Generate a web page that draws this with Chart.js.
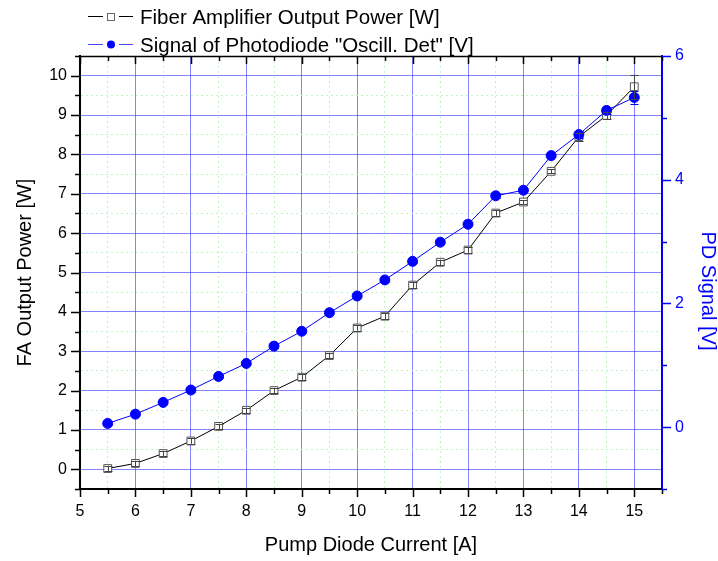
<!DOCTYPE html>
<html>
<head>
<meta charset="utf-8">
<title>Fiber Amplifier Output Power</title>
<style>
  html, body { margin: 0; padding: 0; background: #fff; }
  #wrap { width: 718px; height: 561px; }
</style>
</head>
<body>
<div id="wrap"><canvas id="myChart"></canvas></div>

<script src="https://cdn.jsdelivr.net/npm/chart.js"></script>
<script>
// values
const current = [5.5, 6, 6.5, 7, 7.5, 8, 8.5, 9, 9.5, 10, 10.5, 11, 11.5, 12, 12.5, 13, 13.5, 14, 14.5, 15];
const faPower = [0.02, 0.15, 0.40, 0.72, 1.09, 1.50, 2.00, 2.34, 2.89, 3.59, 3.89, 4.68, 5.26, 5.57, 6.51, 6.79, 7.57, 8.45, 8.99, 9.72];
const faPowerErr = [0.07, 0.07, 0.07, 0.07, 0.07, 0.07, 0.07, 0.07, 0.07, 0.07, 0.07, 0.07, 0.07, 0.07, 0.07, 0.05, 0.05, 0.1, 0.1, 0.3];
const pdSignal = [0.06, 0.21, 0.40, 0.60, 0.82, 1.03, 1.31, 1.55, 1.85, 2.12, 2.38, 2.68, 2.99, 3.28, 3.74, 3.83, 4.39, 4.73, 5.12, 5.33];
const pdSignalErr = [0.03, 0.03, 0.03, 0.03, 0.03, 0.03, 0.03, 0.03, 0.03, 0.03, 0.03, 0.03, 0.03, 0.03, 0.03, 0.03, 0.03, 0.05, 0.05, 0.1];

const legendLabels = ['Fiber Amplifier Output Power [W]', 'Signal of Photodiode "Oscill. Det" [V]'];
const xTitle = 'Pump Diode Current [A]';
const yTitle = 'FA Output Power [W]';
const y2Title = 'PD Signal [V]';

const BLUE = '#0000ff';
const GRID_BLUE = 'rgba(50, 50, 255, 0.6)';
const GRID_GREEN = '#c4f4c4';
const FONT = '"Liberation Sans", Arial, sans-serif';

Chart.defaults.font.family = FONT;

const isInt = v => Math.abs(v - Math.round(v)) < 1e-9;

const gridColor = c => (c.tick && !isInt(c.tick.value)) ? GRID_GREEN : GRID_BLUE;
const gridDash = c => (c.tick && !isInt(c.tick.value)) ? [2, 3] : [];

// error bars, tick marks, top frame line, right title and legend
const decor = {
    id: 'decor',
    afterDatasetsDraw(chart) {
        const ctx = chart.ctx;
        chart.data.datasets.forEach((ds, i) => {
            if (!ds.errors) return;
            const meta = chart.getDatasetMeta(i);
            const sc = chart.scales[ds.yAxisID];
            ctx.save();
            ctx.strokeStyle = ds.errColor;
            ctx.lineWidth = 1;
            meta.data.forEach((pt, j) => {
                const v = ds.data[j].y, e = ds.errors[j];
                const y1 = sc.getPixelForValue(v + e), y2 = sc.getPixelForValue(v - e);
                const x = Math.round(pt.x) + 0.5;
                ctx.beginPath();
                ctx.moveTo(x, y1); ctx.lineTo(x, y2);
                ctx.moveTo(x - 4, Math.round(y1) + 0.5); ctx.lineTo(x + 4, Math.round(y1) + 0.5);
                ctx.moveTo(x - 4, Math.round(y2) + 0.5); ctx.lineTo(x + 4, Math.round(y2) + 0.5);
                ctx.stroke();
            });
            ctx.restore();
        });
    },
    afterDraw(chart) {
        const ctx = chart.ctx;
        const a = chart.chartArea;
        const {x, y, y2} = chart.scales;
        ctx.save();
        ctx.lineWidth = 1.5;
        ctx.strokeStyle = '#000';
        ctx.beginPath();
        ctx.moveTo(a.left, a.top + 0.5); ctx.lineTo(a.right, a.top + 0.5);
        ctx.stroke();

        ctx.lineWidth = 1.5;
        ctx.beginPath();
        x.ticks.forEach(t => {
            const px = Math.round(x.getPixelForValue(t.value)) + 0.5;
            const len = isInt(t.value) ? 8 : 5;
            ctx.moveTo(px, a.bottom); ctx.lineTo(px, a.bottom + len);
            ctx.moveTo(px, a.top); ctx.lineTo(px, a.top + len);
        });
        y.ticks.forEach(t => {
            const py = Math.round(y.getPixelForValue(t.value)) + 0.5;
            const len = isInt(t.value) ? 9 : 5;
            ctx.moveTo(a.left - len, py); ctx.lineTo(a.left, py);
        });
        ctx.stroke();

        ctx.strokeStyle = BLUE;
        ctx.beginPath();
        y2.ticks.forEach(t => {
            const py = Math.round(y2.getPixelForValue(t.value)) + 0.5;
            const len = (t.value % 2 === 0) ? 9 : 5;
            ctx.moveTo(a.right, py); ctx.lineTo(a.right + len, py);
        });
        ctx.stroke();

        // right axis title
        ctx.save();
        ctx.translate(708, 291);
        ctx.rotate(Math.PI / 2);
        ctx.font = '20px ' + FONT;
        ctx.fillStyle = BLUE;
        ctx.textAlign = 'center';
        ctx.textBaseline = 'middle';
        ctx.fillText(y2Title, 0, 0);
        ctx.restore();

        // legend
        ctx.font = '20.5px ' + FONT;
        ctx.textAlign = 'left';
        ctx.textBaseline = 'alphabetic';
        ctx.lineWidth = 1;

        ctx.strokeStyle = '#000';
        ctx.beginPath();
        ctx.moveTo(88, 16.5); ctx.lineTo(103, 16.5);
        ctx.moveTo(119, 16.5); ctx.lineTo(133, 16.5);
        ctx.stroke();
        ctx.fillStyle = '#fff';
        ctx.strokeStyle = '#666';
        ctx.fillRect(107.5, 13.5, 7, 7);
        ctx.strokeRect(107.5, 13.5, 7, 7);
        ctx.fillStyle = '#000';
        ctx.fillText(legendLabels[0], 140, 24);

        ctx.strokeStyle = '#4848ff';
        ctx.beginPath();
        ctx.moveTo(88, 44.5); ctx.lineTo(103, 44.5);
        ctx.moveTo(119, 44.5); ctx.lineTo(133, 44.5);
        ctx.stroke();
        ctx.fillStyle = BLUE;
        ctx.beginPath();
        ctx.arc(111, 44.5, 4, 0, Math.PI * 2);
        ctx.fill();
        ctx.fillStyle = '#000';
        ctx.fillText(legendLabels[1], 140, 52);
        ctx.restore();
    }
};

const data = {
    datasets: [
        {
            label: legendLabels[1],
            data: current.map((c, i) => ({x: c, y: pdSignal[i]})),
            errors: pdSignalErr,
            errColor: BLUE,
            yAxisID: 'y2',
            order: 0,
            borderColor: BLUE,
            borderWidth: 1,
            backgroundColor: BLUE,
            pointStyle: 'circle',
            pointRadius: 5,
            pointBorderColor: BLUE,
            pointBackgroundColor: BLUE,
            tension: 0
        },
        {
            label: legendLabels[0],
            data: current.map((c, i) => ({x: c, y: faPower[i]})),
            errors: faPowerErr,
            errColor: '#444',
            yAxisID: 'y',
            order: 1,
            borderColor: '#000',
            borderWidth: 1,
            pointStyle: 'rect',
            pointRadius: 5.5,
            pointBorderColor: '#555',
            pointBackgroundColor: '#fff',
            pointBorderWidth: 1,
            tension: 0
        }
    ]
};

const config = {
    type: 'line',
    data: data,
    options: {
        responsive: true,
        maintainAspectRatio: false,
        animation: false,
        layout: { padding: { top: 56, left: 0, right: 0, bottom: 0 } },
        plugins: {
            legend: { display: false },
            tooltip: { enabled: false }
        },
        scales: {
            x: {
                type: 'linear',
                min: 5,
                max: 15.5,
                afterFit: s => { s.height = 72; },
                ticks: {
                    stepSize: 0.5,
                    autoSkip: false,
                    maxRotation: 0,
                    padding: 13,
                    color: '#000',
                    font: { size: 16 },
                    callback: v => isInt(v) ? Math.round(v) : ''
                },
                grid: { drawTicks: false, color: gridColor, lineWidth: 1 },
                border: { color: '#000', width: 2, dash: gridDash },
                title: {
                    display: true, text: xTitle, color: '#000',
                    font: { size: 20, lineHeight: 1 }, padding: { top: 0, bottom: 6 }
                }
            },
            y: {
                position: 'left',
                min: -0.5,
                max: 10.5,
                afterFit: s => { s.width = 80; },
                ticks: {
                    stepSize: 0.5,
                    autoSkip: false,
                    padding: 13,
                    color: '#000',
                    font: { size: 16 },
                    callback: v => isInt(v) ? Math.round(v) : ''
                },
                grid: { drawTicks: false, color: gridColor, lineWidth: 1 },
                border: { color: '#000', width: 2, dash: gridDash },
                title: {
                    display: true, text: yTitle, color: '#000',
                    font: { size: 20, lineHeight: 1 }, padding: { top: 15, bottom: 0 }
                }
            },
            y2: {
                position: 'right',
                min: -1,
                max: 6,
                afterFit: s => { s.width = 56; },
                ticks: {
                    stepSize: 1,
                    autoSkip: false,
                    padding: 13,
                    color: BLUE,
                    font: { size: 16 },
                    callback: v => (v % 2 === 0) ? v : ''
                },
                grid: { drawOnChartArea: false, drawTicks: false },
                border: { color: BLUE, width: 2 }
            }
        }
    },
    plugins: [decor]
};

const ctx = document.getElementById('myChart');
new Chart(ctx, config);
</script>
</body>
</html>
